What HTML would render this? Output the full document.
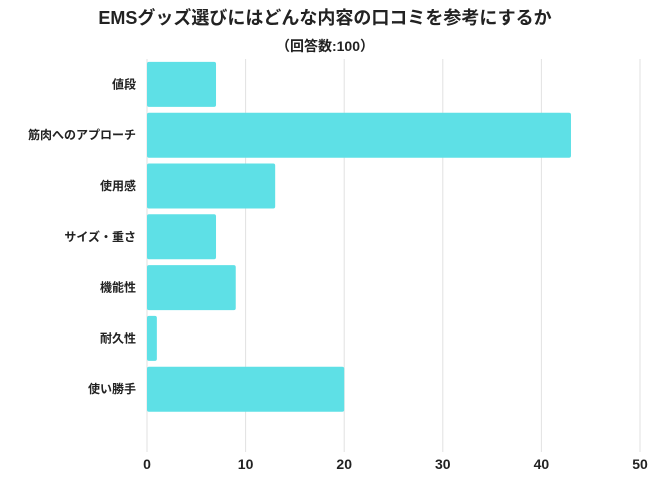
<!DOCTYPE html>
<html><head><meta charset="utf-8"><style>
body{margin:0;background:#fff;}
svg{display:block;font-family:"Liberation Sans","Noto Sans CJK JP",sans-serif;}
</style></head><body>
<svg id="c" width="650" height="488">
<text x="325" y="24" text-anchor="middle" font-size="18" font-weight="bold" fill="#222">EMSグッズ選びにはどんな内容の口コミを参考にするか</text>
<text x="325" y="51" text-anchor="middle" font-size="14" font-weight="bold" fill="#222">（回答数:100）</text>
<g id="grid"></g><g id="bars"></g><g id="labels"></g><g id="ticks"></g>
</svg>
<script>
const categories=["値段","筋肉へのアプローチ","使用感","サイズ・重さ","機能性","耐久性","使い勝手"];
const values=[7,43,13,7,9,1,20];
const tickValues=[0,10,20,30,40,50];
const NS="http://www.w3.org/2000/svg";
const x0=147,x1=640,xmax=50,plotTop=59,band=50.8,bh=45;
const xs=v=>x0+(x1-x0)*v/xmax;
const yb=i=>plotTop+i*band+(band-bh)/2;
function mk(t,a,p){const e=document.createElementNS(NS,t);for(const k in a)e.setAttribute(k,a[k]);p.appendChild(e);return e;}
const g=document.getElementById('grid'),b=document.getElementById('bars'),l=document.getElementById('labels'),tk=document.getElementById('ticks');
tickValues.forEach(v=>{
 const ln=mk('line',{x1:xs(v),x2:xs(v),y1:plotTop,y2:452,stroke:'#e2e2e2','stroke-width':1},g);
 
 
 const t=mk('text',{x:xs(v),y:469,'text-anchor':'middle','font-size':14,'font-weight':'bold',fill:'#222'},tk);
 t.textContent=v;
 
 
});
categories.forEach((c,i)=>{
 const r=mk('rect',{x:xs(0),y:yb(i),width:xs(values[i])-xs(0),height:bh,fill:'#5ee0e6',rx:2},b);
 
 
 const t=mk('text',{x:136,y:yb(i)+bh/2+4,'text-anchor':'end','font-size':12,'font-weight':'bold',fill:'#222'},l);
 t.textContent=c;
 
 
});
</script>
</body></html>
